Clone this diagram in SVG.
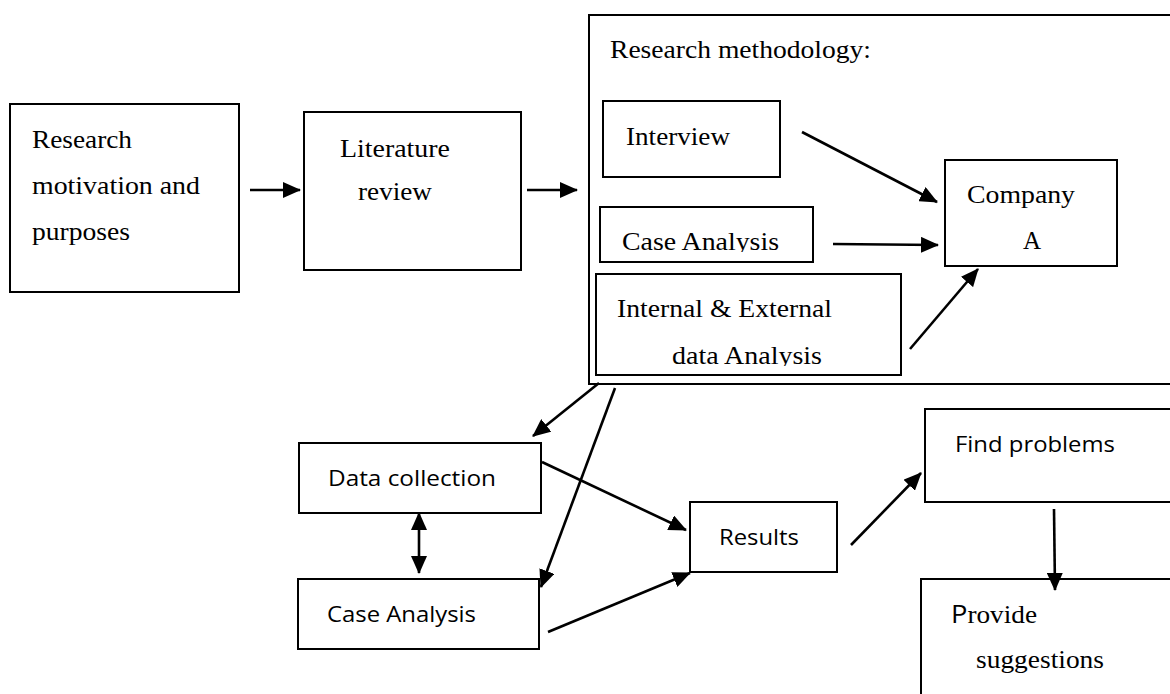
<svg xmlns="http://www.w3.org/2000/svg" width="1170" height="694" viewBox="0 0 1170 694">
<defs>
<style>
.box{fill:#fff;stroke:#000;stroke-width:2}
.ser{font-family:"Liberation Serif","Times New Roman",serif;font-size:25px;fill:#000}
.san{font-family:"Open Sans","Noto Sans","Liberation Sans",sans-serif;font-size:22px;fill:#000}
.ln{stroke:#000;stroke-width:2.6;fill:none}
.arr{marker-end:url(#ah)}
</style>
<marker id="ah" viewBox="0 0 18 16" refX="17" refY="8" markerWidth="18" markerHeight="16" markerUnits="userSpaceOnUse" orient="auto-start-reverse">
<path d="M0,0 L18,8 L0,16 z" fill="#000"/>
</marker>
<clipPath id="c1"><rect x="600" y="207" width="213" height="45"/></clipPath>
<clipPath id="c2"><rect x="596" y="274" width="305" height="92"/></clipPath>
</defs>
<rect width="1170" height="694" fill="#fff"/>

<g id="n-motivation">
<rect class="box" x="10" y="104" width="229" height="188"/>
<text class="ser" x="32" y="148" textLength="100" lengthAdjust="spacingAndGlyphs">Research</text>
<text class="ser" x="32" y="194" textLength="168" lengthAdjust="spacingAndGlyphs">motivation and</text>
<text class="ser" x="32" y="240" textLength="98" lengthAdjust="spacingAndGlyphs">purposes</text>
</g>

<g id="n-literature">
<rect class="box" x="304" y="112" width="217" height="158"/>
<text class="ser" x="340" y="157" textLength="110" lengthAdjust="spacingAndGlyphs">Literature</text>
<text class="ser" x="358" y="200" textLength="74" lengthAdjust="spacingAndGlyphs">review</text>
</g>

<g id="n-methodology">
<rect class="box" x="589" y="15" width="600" height="369"/>
<text class="ser" x="610" y="58" textLength="261" lengthAdjust="spacingAndGlyphs">Research methodology:</text>
</g>

<g id="n-interview">
<rect class="box" x="603" y="101" width="177" height="76"/>
<text class="ser" x="626" y="145" textLength="104" lengthAdjust="spacingAndGlyphs">Interview</text>
</g>

<g id="n-case-upper">
<rect class="box" x="600" y="207" width="213" height="55"/>
<text class="ser" x="622" y="250" textLength="157" lengthAdjust="spacingAndGlyphs" clip-path="url(#c1)">Case Analysis</text>
</g>

<g id="n-internal">
<rect class="box" x="596" y="274" width="305" height="101"/>
<text class="ser" x="617" y="317" textLength="215" lengthAdjust="spacingAndGlyphs">Internal &amp; External</text>
<text class="ser" x="672" y="364" textLength="150" lengthAdjust="spacingAndGlyphs" clip-path="url(#c2)">data Analysis</text>
</g>

<g id="n-company">
<rect class="box" x="945" y="160" width="172" height="106"/>
<text class="ser" x="967" y="203" textLength="108" lengthAdjust="spacingAndGlyphs">Company</text>
<text class="ser" x="1023" y="249">A</text>
</g>

<g id="n-data">
<rect class="box" x="299" y="443" width="242" height="70"/>
<text class="san" x="328" y="486" textLength="168" lengthAdjust="spacingAndGlyphs">Data collection</text>
</g>

<g id="n-case-lower">
<rect class="box" x="298" y="579" width="241" height="70"/>
<text class="san" x="327" y="622" textLength="149" lengthAdjust="spacingAndGlyphs">Case Analysis</text>
</g>

<g id="n-results">
<rect class="box" x="690" y="502" width="147" height="70"/>
<text class="san" x="719" y="545" textLength="80" lengthAdjust="spacingAndGlyphs">Results</text>
</g>

<g id="n-find">
<rect class="box" x="925" y="409" width="260" height="93"/>
<text class="san" x="955" y="452" textLength="160" lengthAdjust="spacingAndGlyphs">Find problems</text>
</g>

<g id="n-provide">
<rect class="box" x="921" y="579" width="260" height="130"/>
<text x="951" y="623" textLength="86" lengthAdjust="spacingAndGlyphs"><tspan class="san" style="font-size:25px">P</tspan><tspan class="ser">rovide</tspan></text>
<text class="ser" x="976" y="668" textLength="128" lengthAdjust="spacingAndGlyphs">suggestions</text>
</g>

<g id="connectors">
<line class="ln arr" x1="250" y1="190" x2="300" y2="190"/>
<line class="ln arr" x1="527" y1="190" x2="577" y2="190"/>
<line class="ln arr" x1="802" y1="132" x2="937" y2="202"/>
<line class="ln arr" x1="833" y1="244" x2="938" y2="245"/>
<line class="ln arr" x1="910" y1="349" x2="978" y2="269"/>
<line class="ln arr" x1="599" y1="383" x2="533" y2="436"/>
<line class="ln arr" x1="615" y1="388" x2="541" y2="587"/>
<line class="ln arr" x1="419" y1="513" x2="419" y2="573" style="marker-start:url(#ah)"/>
<line class="ln arr" x1="542" y1="462" x2="686" y2="530"/>
<line class="ln arr" x1="548" y1="632" x2="690" y2="573"/>
<line class="ln arr" x1="851" y1="545" x2="921" y2="473"/>
<line class="ln arr" x1="1054" y1="509" x2="1055" y2="590"/>
</g>
</svg>
